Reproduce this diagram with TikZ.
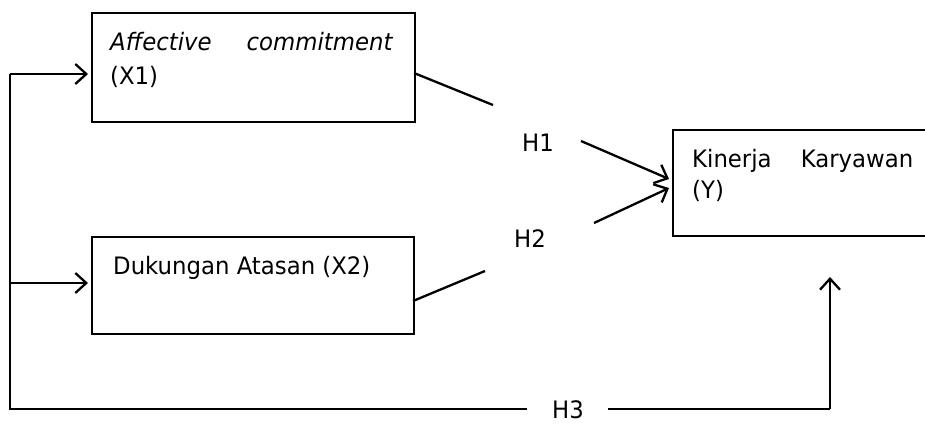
\documentclass[tikz,border=0pt]{standalone}
\usepackage{fontspec}
\setmainfont{DejaVu Sans}[FakeStretch=0.95]
\usetikzlibrary{arrows.meta}
\begin{document}
\begin{tikzpicture}[x=1pt,y=-1pt,
  box/.style={draw, line width=2.4pt, inner sep=0pt, anchor=north west},
  lbl/.style={inner sep=0pt, anchor=base west, font=\fontsize{24}{33}\selectfont},
  conn/.style={line width=2.3pt},
  arr/.style={conn, -{Straight Barb[length=11pt,width=20pt,line width=2.3pt]}}]
\useasboundingbox (0,0) rectangle (925,423);
% boxes
\node[box, minimum width=323pt, minimum height=109pt] (x1) at (91,12) {};
\node[box, minimum width=322pt, minimum height=97pt] (x2) at (91,236) {};
\node[box, minimum width=270pt, minimum height=106pt] (y) at (672,129) {};
% texts
\node[lbl] (tx1) at (110,50) {\parbox[t]{283pt}{\fontsize{24}{34}\selectfont\textit{Affective}\hfill\textit{commitment}\\(X1)}};
\node[lbl] (tx2) at (113,274) {Dukungan Atasan (X2)};
\node[lbl] (ty) at (692,167) {\parbox[t]{221pt}{\fontsize{24}{31}\selectfont Kinerja\hfill Karyawan\\(Y)}};
\node[lbl] (h1) at (522,151) {H1};
\node[lbl] (h2) at (514,247) {H2};
\node[lbl] (h3) at (552,418) {H3};
% coordinates
\coordinate (c1) at (10,74);
\coordinate (c2) at (10,283);
\coordinate (c3) at (10,409);
\coordinate (c4) at (527,409);
\coordinate (c5) at (608,409);
\coordinate (c6) at (830,409);
\coordinate (c7) at (830,277);
\coordinate (a1) at (414,73);
\coordinate (d1) at (493,105);
\coordinate (a2) at (413,301);
\coordinate (d2) at (485,271);
\coordinate (e1) at (581,141);
\coordinate (e2) at (594,223);
% connectors
\draw[conn] (c1) -- (c3) -- (c4);
\draw[arr] (c1) -- ([xshift=-3pt]x1.west |- c1);
\draw[arr] (c2) -- ([xshift=-3pt]x2.west |- c2);
\draw[conn] (c5) -- (c6);
\draw[arr] (c6) -- (c7);
\draw[conn] (a1) -- (d1);
\draw[conn] (a2) -- (d2);
\draw[arr] (e1) -- ([xshift=-3pt]y.west |- 0,179);
\draw[arr] (e2) -- ([xshift=-3pt]y.west |- 0,188);
\end{tikzpicture}
\end{document}
